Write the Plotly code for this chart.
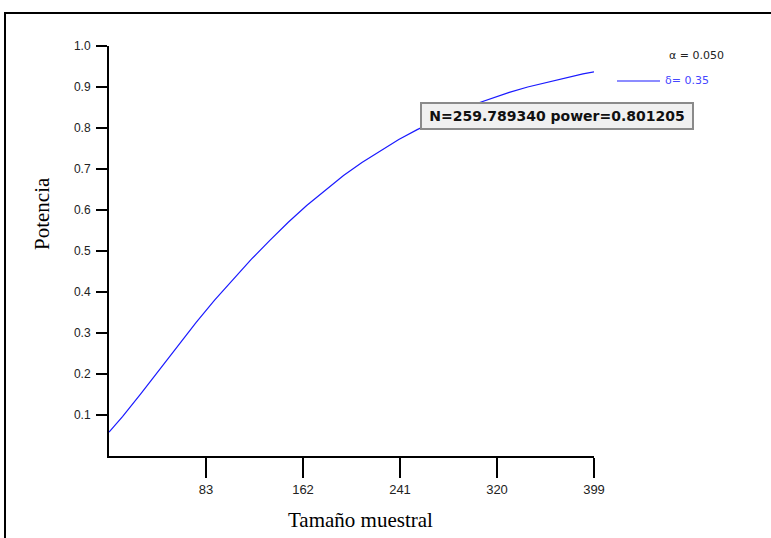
import plotly.graph_objects as go

# Power curve: total sample size vs. power (alpha = 0.05, effect size 0.35)
sample_size = [4, 15, 30, 45, 60, 75, 90, 105, 120, 135, 150, 165, 180, 195,
               210, 225, 240, 255, 270, 285, 300, 315, 330, 345, 360, 375,
               390, 399]
power = [0.058, 0.096, 0.152, 0.211, 0.270, 0.326, 0.380, 0.431, 0.480,
         0.526, 0.570, 0.611, 0.648, 0.684, 0.716, 0.745, 0.772, 0.796,
         0.818, 0.838, 0.856, 0.872, 0.887, 0.900, 0.911, 0.922, 0.932,
         0.937]

x_ticks = [83, 162, 241, 320, 399]
y_ticks = [0.1, 0.2, 0.3, 0.4, 0.5, 0.6, 0.7, 0.8, 0.9, 1.0]
y_tick_text = ["0.1", "0.2", "0.3", "0.4", "0.5", "0.6", "0.7", "0.8", "0.9", "1.0"]

alpha_label = "\u03b1 = 0.050"
delta_label = "\u03b4= 0.35"
point_label = "N=259.789340 power=0.801205"

W, H = 771, 538
L, R, T, B = 109, 177, 46, 82
pw, ph = W - L - R, H - T - B


def px(xp):
    return (xp - L) / pw


def py(yp):
    return (H - B - yp) / ph


line_color = "#1a1aff"
serif = "Liberation Serif, Times New Roman, serif"

fig = go.Figure()
fig.add_trace(go.Scatter(
    x=sample_size, y=power, mode="lines",
    line=dict(color=line_color, width=1.2),
    showlegend=False, hoverinfo="skip",
))

fig.update_layout(
    width=W, height=H,
    margin=dict(l=L, r=R, t=T, b=B),
    paper_bgcolor="white", plot_bgcolor="white",
    font=dict(family="Liberation Sans, Arial, sans-serif", color="#222222"),
    xaxis=dict(
        range=[4, 399], tickvals=x_ticks, ticks="outside", ticklen=20,
        tickwidth=1.5, tickcolor="black", showline=True, linecolor="black",
        linewidth=2, showgrid=False, zeroline=False,
        tickfont=dict(size=13), ticklabelstandoff=0,
    ),
    yaxis=dict(
        range=[0, 1.0], tickvals=y_ticks, ticktext=y_tick_text,
        ticks="outside", ticklen=11, tickwidth=1.5, tickcolor="black",
        showline=True, linecolor="black", linewidth=2, showgrid=False,
        zeroline=False, tickfont=dict(size=12), ticklabelstandoff=3,
    ),
    shapes=[
        # outer frame (top and left edges)
        dict(type="line", xref="paper", yref="paper",
             x0=px(4), x1=px(W + 5), y0=py(13), y1=py(13),
             line=dict(color="black", width=2)),
        dict(type="line", xref="paper", yref="paper",
             x0=px(5), x1=px(5), y0=py(12), y1=py(H + 5),
             line=dict(color="black", width=2)),
        # legend line sample
        dict(type="line", xref="paper", yref="paper",
             x0=px(617), x1=px(660), y0=py(81), y1=py(81),
             line=dict(color=line_color, width=1.2)),
    ],
    annotations=[
        dict(text="Tamaño muestral", xref="paper", yref="paper",
             x=px(360), y=py(520), xanchor="center", yanchor="middle",
             showarrow=False, font=dict(family=serif, size=21, color="black")),
        dict(text="Potencia", xref="paper", yref="paper",
             x=px(42), y=py(214), xanchor="center", yanchor="middle",
             showarrow=False, textangle=-90,
             font=dict(family=serif, size=21, color="black")),
        dict(text=alpha_label, xref="paper", yref="paper",
             x=px(667), y=py(55), xanchor="left", yanchor="middle",
             showarrow=False,
             font=dict(family="DejaVu Sans", size=11, color="#222222")),
        dict(text=delta_label, xref="paper", yref="paper",
             x=px(663), y=py(81), xanchor="left", yanchor="middle",
             showarrow=False,
             font=dict(family="DejaVu Sans", size=11, color="#4646ff")),
        dict(text="<b>" + point_label + "</b>", xref="paper", yref="paper",
             x=px(557), y=py(116), xanchor="center", yanchor="middle",
             showarrow=False,
             bgcolor="#f0f0f0", bordercolor="#8a8a8a", borderwidth=2,
             borderpad=2, width=266, height=20,
             font=dict(family="DejaVu Sans", size=14, color="#111111")),
    ],
)

fig.write_html("out.html")
